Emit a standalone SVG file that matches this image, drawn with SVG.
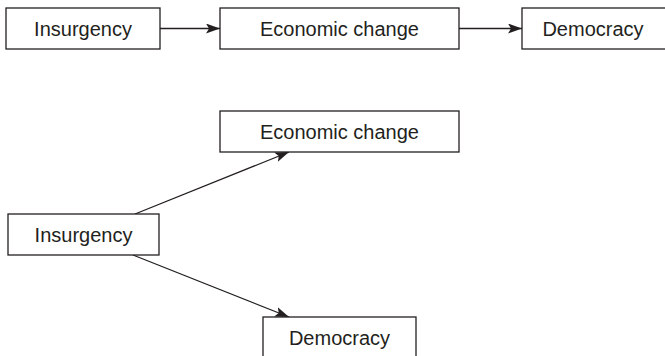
<svg xmlns="http://www.w3.org/2000/svg" width="665" height="356" viewBox="0 0 665 356">
<style>
.box{fill:#fff;stroke:#231f20;stroke-width:1.3}
.lbl{font-family:"Liberation Sans",Arial,sans-serif;font-size:20px;fill:#231f20;text-anchor:middle}
.edge{stroke:#231f20;stroke-width:1.3;fill:none;marker-end:url(#ah)}
</style>
<defs>
<marker id="ah" viewBox="0 0 14 10" refX="14" refY="5" markerWidth="14" markerHeight="10" markerUnits="userSpaceOnUse" orient="auto">
<path d="M0,0 L14,5 L0,10 L3,5 Z" fill="#231f20"/>
</marker>
</defs>
<rect width="665" height="356" fill="#fff"/>
<g id="connectors">
<line class="edge" x1="160" y1="28.5" x2="220" y2="28.5"/>
<line class="edge" x1="459" y1="28.5" x2="522" y2="28.5"/>
<line class="edge" x1="135" y1="214" x2="289" y2="152"/>
<line class="edge" x1="133" y1="255" x2="289" y2="317"/>
</g>
<g id="n1"><rect class="box" x="6" y="8" width="154" height="41"/><text class="lbl" x="83" y="35.5">Insurgency</text></g>
<g id="n2"><rect class="box" x="220" y="8" width="239" height="41"/><text class="lbl" x="339.5" y="35.5">Economic change</text></g>
<g id="n3"><rect class="box" x="522" y="8" width="150" height="41"/><text class="lbl" x="593" y="35.5">Democracy</text></g>
<g id="n4"><rect class="box" x="220" y="111" width="239" height="41"/><text class="lbl" x="339.5" y="138.5">Economic change</text></g>
<g id="n5"><rect class="box" x="8" y="214" width="151" height="41"/><text class="lbl" x="83.5" y="241.5">Insurgency</text></g>
<g id="n6"><rect class="box" x="263" y="317" width="153" height="45"/><text class="lbl" x="339.5" y="344.5">Democracy</text></g>
</svg>
